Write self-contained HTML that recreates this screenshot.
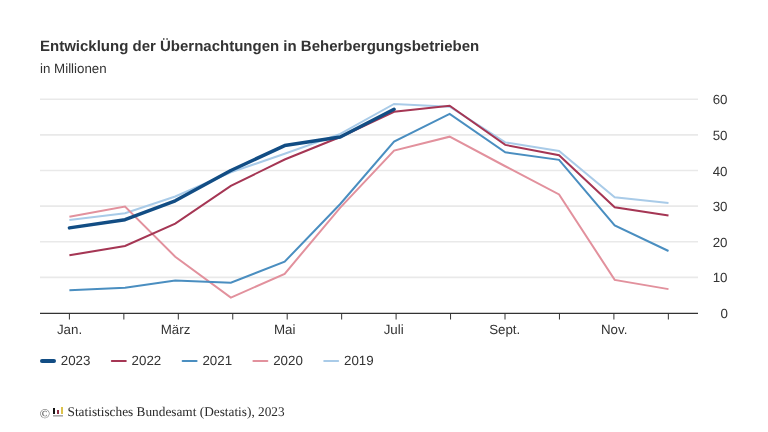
<!DOCTYPE html>
<html><head><meta charset="utf-8"><style>
html,body{margin:0;padding:0;background:#fff;}
svg{display:block;will-change:transform;}
text{text-rendering:geometricPrecision;}
.ax{font-family:"Liberation Sans",Arial,sans-serif;font-size:13.33px;fill:#333;}
.ti{font-family:"Liberation Sans",Arial,sans-serif;font-size:15px;font-weight:bold;fill:#333;}
.su{font-family:"Liberation Sans",Arial,sans-serif;font-size:13.33px;fill:#333;}
.ft{font-family:"Liberation Serif","Times New Roman",serif;font-size:13.3px;fill:#2a2a2a;}
</style></head><body>
<svg width="768" height="432" viewBox="0 0 768 432">
<text x="40" y="51" class="ti">Entwicklung der Übernachtungen in Beherbergungsbetrieben</text>
<text x="40" y="72.8" class="su">in Millionen</text>
<line x1="40" x2="698" y1="277.38" y2="277.38" stroke="#e9e9e9" stroke-width="1.6"/>
<line x1="40" x2="698" y1="241.76" y2="241.76" stroke="#e9e9e9" stroke-width="1.6"/>
<line x1="40" x2="698" y1="206.14" y2="206.14" stroke="#e9e9e9" stroke-width="1.6"/>
<line x1="40" x2="698" y1="170.52" y2="170.52" stroke="#e9e9e9" stroke-width="1.6"/>
<line x1="40" x2="698" y1="134.90" y2="134.90" stroke="#e9e9e9" stroke-width="1.6"/>
<line x1="40" x2="698" y1="99.28" y2="99.28" stroke="#e9e9e9" stroke-width="1.6"/>
<text x="728" y="318.00" text-anchor="end" class="ax">0</text>
<text x="727.5" y="282.38" text-anchor="end" class="ax">10</text>
<text x="727.5" y="246.76" text-anchor="end" class="ax">20</text>
<text x="727.5" y="211.14" text-anchor="end" class="ax">30</text>
<text x="727.5" y="175.52" text-anchor="end" class="ax">40</text>
<text x="727.5" y="139.90" text-anchor="end" class="ax">50</text>
<text x="727.5" y="104.28" text-anchor="end" class="ax">60</text>
<line x1="40" x2="698" y1="313.4" y2="313.4" stroke="#333" stroke-width="1.3"/>
<line x1="69.40" x2="69.40" y1="313.4" y2="319.5" stroke="#333" stroke-width="1"/>
<line x1="123.85" x2="123.85" y1="313.4" y2="319.5" stroke="#333" stroke-width="1"/>
<line x1="178.30" x2="178.30" y1="313.4" y2="319.5" stroke="#333" stroke-width="1"/>
<line x1="232.75" x2="232.75" y1="313.4" y2="319.5" stroke="#333" stroke-width="1"/>
<line x1="287.20" x2="287.20" y1="313.4" y2="319.5" stroke="#333" stroke-width="1"/>
<line x1="341.65" x2="341.65" y1="313.4" y2="319.5" stroke="#333" stroke-width="1"/>
<line x1="396.10" x2="396.10" y1="313.4" y2="319.5" stroke="#333" stroke-width="1"/>
<line x1="450.55" x2="450.55" y1="313.4" y2="319.5" stroke="#333" stroke-width="1"/>
<line x1="505.00" x2="505.00" y1="313.4" y2="319.5" stroke="#333" stroke-width="1"/>
<line x1="559.45" x2="559.45" y1="313.4" y2="319.5" stroke="#333" stroke-width="1"/>
<line x1="613.90" x2="613.90" y1="313.4" y2="319.5" stroke="#333" stroke-width="1"/>
<line x1="668.35" x2="668.35" y1="313.4" y2="319.5" stroke="#333" stroke-width="1"/>
<text x="69.5" y="334" text-anchor="middle" class="ax">Jan.</text>
<text x="175.5" y="334" text-anchor="middle" class="ax">März</text>
<text x="284.7" y="334" text-anchor="middle" class="ax">Mai</text>
<text x="393.7" y="334" text-anchor="middle" class="ax">Juli</text>
<text x="504.7" y="334" text-anchor="middle" class="ax">Sept.</text>
<text x="614.2" y="334" text-anchor="middle" class="ax">Nov.</text>
<polyline points="69.40,220.03 125.01,213.26 175.23,196.52 230.83,172.30 284.65,153.78 340.25,133.83 394.06,103.91 449.67,106.76 505.27,142.38 559.08,150.93 614.69,197.24 668.50,202.93" fill="none" stroke="#a9cbe8" stroke-width="2" stroke-linejoin="miter" stroke-linecap="butt"/>
<polyline points="69.40,216.83 125.01,206.50 175.23,256.72 230.83,297.68 284.65,273.82 340.25,207.56 394.06,150.57 449.67,136.68 505.27,166.25 559.08,194.39 614.69,279.87 668.50,289.13" fill="none" stroke="#e2919d" stroke-width="2" stroke-linejoin="miter" stroke-linecap="butt"/>
<polyline points="69.40,290.20 125.01,287.71 175.23,280.59 230.83,282.72 284.65,261.71 340.25,204.00 394.06,141.67 449.67,113.88 505.27,152.35 559.08,159.83 614.69,225.37 668.50,251.02" fill="none" stroke="#4a8ec0" stroke-width="2" stroke-linejoin="miter" stroke-linecap="butt"/>
<polyline points="69.40,255.30 125.01,246.03 175.23,223.59 230.83,185.84 284.65,159.48 340.25,137.04 394.06,111.75 449.67,105.69 505.27,144.87 559.08,155.20 614.69,207.21 668.50,215.40" fill="none" stroke="#a53654" stroke-width="2" stroke-linejoin="miter" stroke-linecap="butt"/>
<polyline points="69.40,227.87 125.01,219.68 175.23,200.80 230.83,170.52 284.65,145.59 340.25,137.04 394.06,109.25" fill="none" stroke="#124d84" stroke-width="3.5" stroke-linejoin="round" stroke-linecap="round"/>
<line x1="42.0" x2="54.0" y1="361" y2="361" stroke="#124d84" stroke-width="4" stroke-linecap="round"/>
<text x="60.8" y="364.7" class="ax">2023</text>
<line x1="111.8" x2="125.8" y1="361" y2="361" stroke="#a53654" stroke-width="2" stroke-linecap="round"/>
<text x="131.6" y="364.7" class="ax">2022</text>
<line x1="182.6" x2="196.6" y1="361" y2="361" stroke="#4a8ec0" stroke-width="2" stroke-linecap="round"/>
<text x="202.4" y="364.7" class="ax">2021</text>
<line x1="253.4" x2="267.4" y1="361" y2="361" stroke="#e2919d" stroke-width="2" stroke-linecap="round"/>
<text x="273.2" y="364.7" class="ax">2020</text>
<line x1="324.2" x2="338.2" y1="361" y2="361" stroke="#a9cbe8" stroke-width="2" stroke-linecap="round"/>
<text x="344.0" y="364.7" class="ax">2019</text>
<text x="39.7" y="417.9" class="ft" style="fill:#555;font-size:13.5px">©</text>
<rect x="53" y="408" width="2" height="6" fill="#151515"/>
<rect x="57" y="410" width="2" height="4" fill="#8e2f45"/>
<rect x="61" y="407" width="2" height="7" fill="#dcc24c"/>
<rect x="53" y="415" width="10" height="1.6" fill="#aaa"/>
<text x="67.5" y="415.6" class="ft">Statistisches Bundesamt (Destatis), 2023</text>
</svg>
</body></html>
